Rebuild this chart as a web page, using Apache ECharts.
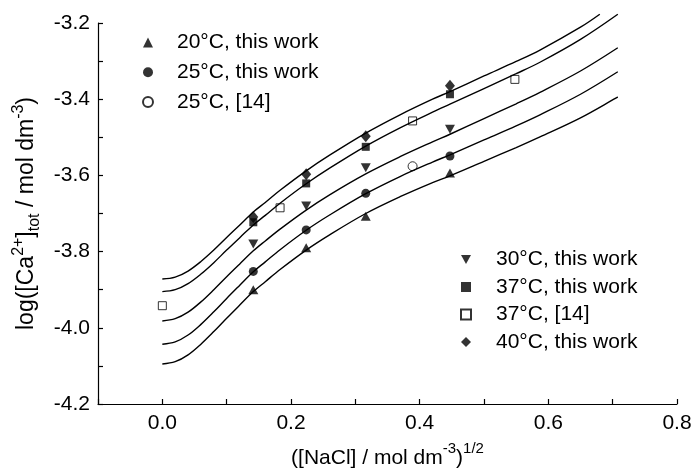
<!DOCTYPE html>
<html>
<head>
<meta charset="utf-8">
<script src="https://cdn.jsdelivr.net/npm/echarts@6/dist/echarts.min.js"></script>
<style>
html,body{margin:0;padding:0;background:#fff;}
#c{width:691px;height:472px;}
</style>
</head>
<body>
<div id="c"></div>
<script>
// ---- data ----
const xData = [0.1414, 0.2236, 0.3162, 0.4471];
const d20 = [-3.900, -3.790, -3.707, -3.594];
const d25 = [-3.852, -3.743, -3.647, -3.549];
const d30 = [-3.780, -3.680, -3.580, -3.479];
const d37 = [-3.723, -3.621, -3.525, -3.387];
const d40 = [-3.709, -3.597, -3.497, -3.365];
const xLit25 = [0.389];
const yLit25 = [-3.576];
const xLit37 = [0.0, 0.183, 0.389, 0.548];
const yLit37 = [-3.942, -3.685, -3.457, -3.348];

const xCurve = [0, 0.02, 0.04, 0.06, 0.08, 0.10, 0.12, 0.1414, 0.16, 0.183, 0.2236, 0.26, 0.3162, 0.3695, 0.42, 0.4471, 0.50, 0.55, 0.587, 0.65, 0.708];
const xCurve40 = [0, 0.02, 0.04, 0.06, 0.08, 0.10, 0.12, 0.1414, 0.16, 0.183, 0.2236, 0.26, 0.3162, 0.3695, 0.42, 0.4471, 0.50, 0.55, 0.587, 0.65, 0.68];
const c20 = [-4.095,-4.089,-4.071,-4.043,-4.010,-3.975,-3.941,-3.905,-3.879,-3.847,-3.796,-3.756,-3.700,-3.656,-3.619,-3.601,-3.563,-3.527,-3.499,-3.449,-3.394];
const c25 = [-4.043,-4.037,-4.019,-3.991,-3.958,-3.923,-3.889,-3.853,-3.827,-3.795,-3.744,-3.704,-3.648,-3.603,-3.565,-3.546,-3.507,-3.470,-3.441,-3.387,-3.328];
const c30 = [-3.982,-3.976,-3.959,-3.932,-3.900,-3.866,-3.833,-3.798,-3.772,-3.741,-3.691,-3.651,-3.596,-3.551,-3.512,-3.492,-3.451,-3.412,-3.382,-3.326,-3.265];
const c37 = [-3.905,-3.900,-3.884,-3.859,-3.829,-3.796,-3.764,-3.730,-3.705,-3.673,-3.622,-3.581,-3.523,-3.475,-3.434,-3.413,-3.372,-3.333,-3.303,-3.243,-3.177];
const c40 = [-3.872,-3.867,-3.851,-3.826,-3.796,-3.763,-3.731,-3.696,-3.671,-3.639,-3.588,-3.547,-3.489,-3.441,-3.400,-3.380,-3.339,-3.301,-3.271,-3.211,-3.177];

const xTicks = [0.0, 0.2, 0.4, 0.6, 0.8];
const yTicks = [-4.2, -4.0, -3.8, -3.6, -3.4, -3.2];

const names = ['20°C, this work', '25°C, this work', '25°C, [14]', '30°C, this work', '37°C, this work', '37°C, [14]', '40°C, this work'];

// ---- build ----
const zip = (xs, ys) => xs.map((x, i) => [x, ys[i]]);
const FONT = 'Liberation Sans, Arial, sans-serif';
const black = '#000';
const TRI_DOWN = 'path://M0,0 L10,0 L5,9 Z';

function scatter(name, xs, ys, symbol, size, open) {
  return {
    name: name, type: 'scatter', data: zip(xs, ys), symbol: symbol, symbolSize: size, z: 5,
    itemStyle: open ? {color: 'rgba(0,0,0,0)', borderColor: black, borderWidth: 1} : {color: black},
    emphasis: {disabled: true}
  };
}
function curve(xs, ys) {
  return {
    type: 'line', data: zip(xs, ys), showSymbol: false, symbol: 'none', smooth: 0.35, clip: false,
    lineStyle: {color: black, width: 1.4}, z: 3, silent: true
  };
}
const isMajor = (v, arr) => arr.some(t => Math.abs(t - v) < 1e-6);

const chart = echarts.init(document.getElementById('c'), null, {renderer: 'canvas'});
const option = {
  backgroundColor: '#fff',
  animation: false,
  textStyle: {fontFamily: FONT, color: black},
  grid: {left: 98, top: 23, width: 579, height: 381, containLabel: false, outerBoundsMode: 'none'},
  xAxis: {
    type: 'value', min: -0.1, max: 0.8, interval: 0.1,
    axisLine: {show: true, onZero: false, lineStyle: {color: black, width: 1.2}},
    axisTick: {show: true, inside: true, length: 5, lineStyle: {color: black, width: 1.2}},
    splitLine: {show: false},
    axisLabel: {
      fontSize: 21, color: black, fontFamily: FONT, margin: 9,
      formatter: v => isMajor(v, xTicks) ? v.toFixed(1) : ''
    },
    name: '{a|([NaCl] / mol dm}{sup|-3}{a|)}{sup|1/2}',
    nameLocation: 'middle', nameGap: 37,
    nameTextStyle: {
      rich: {
        a: {fontSize: 21, fontFamily: FONT, color: black, lineHeight: 28, verticalAlign: 'bottom'},
        sup: {fontSize: 15, fontFamily: FONT, color: black, verticalAlign: 'top', lineHeight: 28}
      }
    }
  },
  yAxis: {
    type: 'value', min: -4.2, max: -3.2, interval: 0.1,
    axisLine: {show: true, onZero: false, lineStyle: {color: black, width: 1.2}},
    axisTick: {show: true, inside: true, length: 5, lineStyle: {color: black, width: 1.2}},
    splitLine: {show: false},
    axisLabel: {
      fontSize: 21, color: black, fontFamily: FONT, margin: 8,
      formatter: v => isMajor(v, yTicks) ? v.toFixed(1) : ''
    },
    name: '{a|log([Ca}{sup|2+}{a|]}{sub|tot}{a| / mol dm}{sup|-3}{a|)}',
    nameLocation: 'middle', nameRotate: 90, nameGap: 50,
    nameTextStyle: {
      rich: {
        a: {fontSize: 23, fontFamily: FONT, color: black, lineHeight: 32, verticalAlign: 'middle'},
        sup: {fontSize: 16, fontFamily: FONT, color: black, verticalAlign: 'top', lineHeight: 32},
        sub: {fontSize: 16, fontFamily: FONT, color: black, verticalAlign: 'bottom', lineHeight: 32}
      }
    }
  },
  legend: [
    {
      data: names.slice(0, 3), orient: 'vertical', left: 142, top: 32, padding: 0,
      itemWidth: 10, itemHeight: 10, itemGap: 8.7, selectedMode: false,
      textStyle: {fontSize: 21, fontFamily: FONT, color: black, lineHeight: 20, padding: [0, 0, 0, 19]}
    },
    {
      data: names.slice(3), orient: 'vertical', left: 460, top: 249, padding: 0,
      itemWidth: 10, itemHeight: 10, itemGap: 6.5, selectedMode: false,
      textStyle: {fontSize: 21, fontFamily: FONT, color: black, lineHeight: 20, padding: [0, 0, 0, 20]}
    }
  ],
  series: [
    curve(xCurve, c20), curve(xCurve, c25), curve(xCurve, c30), curve(xCurve, c37), curve(xCurve40, c40),
    scatter(names[0], xData, d20, 'triangle', [10, 9], false),
    scatter(names[1], xData, d25, 'circle', 9, false),
    scatter(names[2], xLit25, yLit25, 'circle', 9, true),
    scatter(names[3], xData, d30, TRI_DOWN, [10, 9], false),
    scatter(names[4], xData, d37, 'rect', 8, false),
    scatter(names[5], xLit37, yLit37, 'rect', 8, true),
    scatter(names[6], xData, d40, 'diamond', [10, 12], false)
  ]
};
chart.setOption(option);
</script>
</body>
</html>
